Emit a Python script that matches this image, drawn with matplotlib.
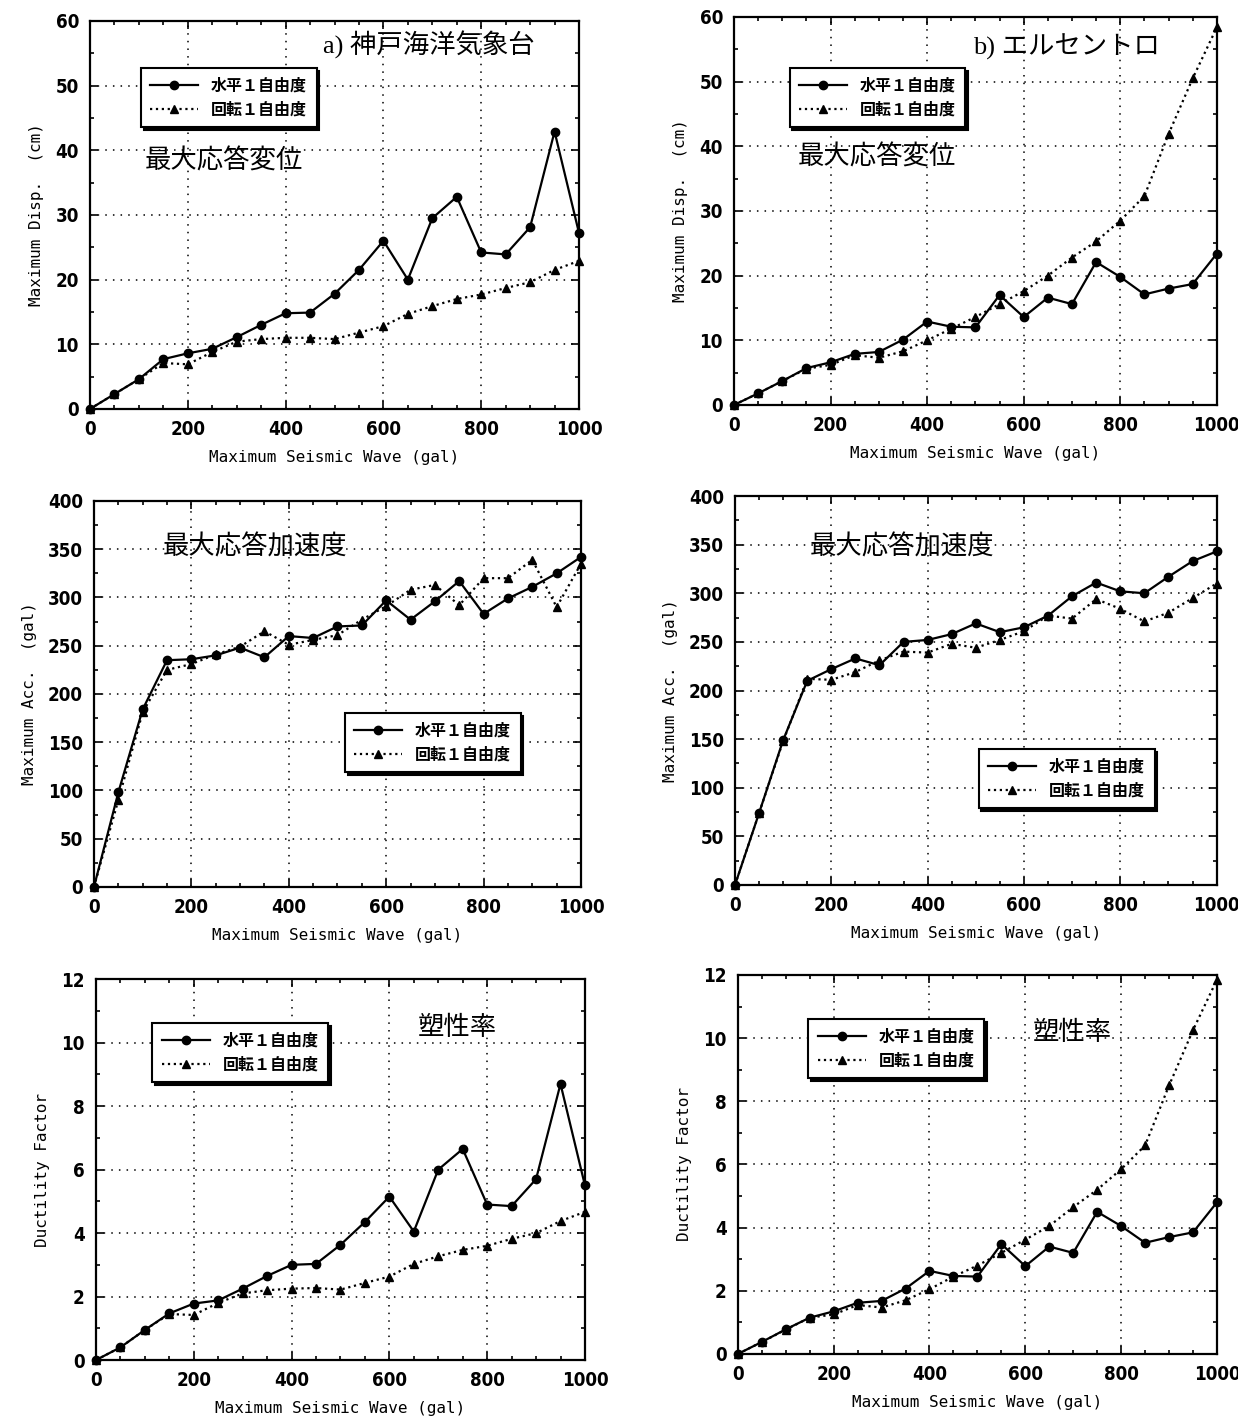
import matplotlib
matplotlib.use('Agg')
import matplotlib.pyplot as plt
from matplotlib import font_manager
from matplotlib.ticker import MultipleLocator

# input seismic wave amplitude (gal)
wave = [0, 50, 100, 150, 200, 250, 300, 350, 400, 450, 500,
        550, 600, 650, 700, 750, 800, 850, 900, 950, 1000]

# a) Kobe, max displacement (cm)
kobe_disp_h = [0, 2.3, 4.6, 7.7, 8.6, 9.3, 11.1, 13.0, 14.8, 14.9, 17.8,
               21.5, 26.0, 20.0, 29.5, 32.8, 24.2, 23.9, 28.1, 42.9, 27.2]
kobe_disp_r = [0, 2.3, 4.6, 7.1, 6.9, 8.8, 10.4, 10.8, 11.0, 11.0, 10.8,
               11.8, 12.8, 14.7, 15.9, 17.0, 17.7, 18.7, 19.6, 21.5, 22.9]
# b) El Centro, max displacement (cm)
elc_disp_h = [0, 1.8, 3.7, 5.7, 6.6, 7.9, 8.2, 10.1, 12.9, 12.1, 12.0,
              17.0, 13.6, 16.6, 15.6, 22.1, 19.8, 17.1, 18.0, 18.7, 23.4]
elc_disp_r = [0, 1.8, 3.7, 5.6, 6.2, 7.7, 7.3, 8.3, 10.0, 11.8, 13.6,
              15.6, 17.6, 20.0, 22.8, 25.3, 28.5, 32.3, 41.9, 50.5, 58.4]
# c) Kobe, max acceleration (gal)
kobe_acc_h = [0, 98, 184, 235, 236, 240, 248, 238, 260, 258, 270,
              271, 297, 277, 296, 317, 283, 299, 311, 325, 342]
kobe_acc_r = [0, 90, 181, 225, 231, 241, 249, 265, 251, 256, 261,
              277, 291, 308, 313, 292, 320, 320, 339, 290, 335]
# d) El Centro, max acceleration (gal)
elc_acc_h = [0, 74, 149, 210, 222, 233, 226, 250, 252, 258, 269,
             260, 265, 277, 297, 311, 302, 300, 317, 333, 343]
elc_acc_r = [0, 74, 148, 212, 211, 219, 231, 240, 239, 248, 244,
             252, 261, 277, 274, 294, 284, 271, 280, 295, 310]
# e) Kobe, ductility factor
kobe_duc_h = [0, 0.4, 0.95, 1.47, 1.78, 1.88, 2.25, 2.65, 3.0, 3.03, 3.63,
              4.35, 5.15, 4.05, 6.0, 6.65, 4.9, 4.85, 5.7, 8.7, 5.5]
kobe_duc_r = [0, 0.4, 0.95, 1.45, 1.42, 1.8, 2.1, 2.2, 2.25, 2.27, 2.22,
              2.43, 2.63, 3.03, 3.27, 3.47, 3.6, 3.82, 4.0, 4.38, 4.67]
# f) El Centro, ductility factor
elc_duc_h = [0, 0.38, 0.78, 1.15, 1.35, 1.62, 1.68, 2.07, 2.63, 2.47, 2.45,
             3.48, 2.78, 3.4, 3.2, 4.5, 4.05, 3.52, 3.7, 3.85, 4.8]
elc_duc_r = [0, 0.38, 0.77, 1.15, 1.25, 1.55, 1.47, 1.7, 2.05, 2.45, 2.8,
             3.2, 3.62, 4.05, 4.65, 5.2, 5.85, 6.6, 8.5, 10.25, 11.85]

label_h = '水平１自由度'
label_r = '回転１自由度'
xlabel = 'Maximum Seismic Wave (gal)'

# look for a narrow/condensed face for the tick numbers
num_prop = None
for f in font_manager.fontManager.ttflist:
    nm = f.name.lower()
    if ('narrow' in nm or 'condensed' in nm or 'condensed' in str(f.stretch)) \
            and f.weight in ('bold', 700) and 'mono' not in nm:
        num_prop = font_manager.FontProperties(fname=f.fname, size=13.5)
        break
if num_prop is None:
    for f in font_manager.fontManager.ttflist:
        nm = f.name.lower()
        if 'narrow' in nm or 'condensed' in nm or 'condensed' in str(f.stretch):
            num_prop = font_manager.FontProperties(fname=f.fname, size=13.5, weight='bold')
            break
if num_prop is None:
    num_prop = font_manager.FontProperties(family='Liberation Sans', weight='bold', size=12)

jp = ['Liberation Serif', 'Noto Sans CJK JP', 'DejaVu Sans']

panels = [
    # rect, h, r, ymax, ystep, yminor, ylabel, notes, legend (x, ytop)
    ([0.0727, 0.7112, 0.395, 0.274], kobe_disp_h, kobe_disp_r, 60, 10, 5,
     'Maximum Disp.  (cm)',
     [('a) 神戸海洋気象台', 0.476, 0.938), ('最大応答変位', 0.111, 0.64)], (0.104, 0.879)),
    ([0.5929, 0.714, 0.390, 0.274], elc_disp_h, elc_disp_r, 60, 10, 5,
     'Maximum Disp.  (cm)',
     [('b) エルセントロ', 0.495, 0.923), ('最大応答変位', 0.133, 0.64)], (0.115, 0.869)),
    ([0.0759, 0.3736, 0.3934, 0.2726], kobe_acc_h, kobe_acc_r, 400, 50, 25,
     'Maximum Acc.  (gal)',
     [('最大応答加速度', 0.142, 0.88)], (0.515, 0.451)),
    ([0.5937, 0.375, 0.389, 0.2747], elc_acc_h, elc_acc_r, 400, 50, 25,
     'Maximum Acc.  (gal)',
     [('最大応答加速度', 0.156, 0.869)], (0.506, 0.35)),
    ([0.0775, 0.0395, 0.395, 0.269], kobe_duc_h, kobe_duc_r, 12, 2, 1,
     'Ductility Factor',
     [('塑性率', 0.658, 0.871)], (0.115, 0.885)),
    ([0.596, 0.0438, 0.387, 0.2677], elc_duc_h, elc_duc_r, 12, 2, 1,
     'Ductility Factor',
     [('塑性率', 0.616, 0.847)], (0.147, 0.884)),
]

fig = plt.figure(figsize=(12.38, 14.16), dpi=100)

for rect, h, r, ymax, ystep, yminor, ylabel, notes, leg_pos in panels:
    ax = fig.add_axes(rect)
    ax.plot(wave, h, '-', color='black', lw=1.6, marker='o', ms=6,
            label=label_h, clip_on=False, zorder=4)
    ax.plot(wave, r, ':', color='black', lw=1.6, marker='^', ms=5.5,
            label=label_r, clip_on=False, zorder=4)
    ax.set_xlim(0, 1000)
    ax.set_ylim(0, ymax)
    ax.xaxis.set_major_locator(MultipleLocator(200))
    ax.xaxis.set_minor_locator(MultipleLocator(50))
    ax.yaxis.set_major_locator(MultipleLocator(ystep))
    ax.yaxis.set_minor_locator(MultipleLocator(yminor))
    ax.tick_params(which='both', direction='in', top=True, right=True, width=1.2)
    ax.tick_params(which='major', length=6, pad=8)
    ax.tick_params(which='minor', length=3)
    for lab in ax.get_xticklabels() + ax.get_yticklabels():
        lab.set_fontproperties(num_prop)
    ax.grid(True, which='major', color='black', linestyle=(0, (1, 4)), lw=1.1)
    for s in ax.spines.values():
        s.set_linewidth(1.6)
    ax.set_xlabel(xlabel, family='DejaVu Sans Mono', fontsize=11.5, labelpad=8)
    ax.set_ylabel(ylabel, family='DejaVu Sans Mono', fontsize=11.5, labelpad=8)
    for txt, tx, ty in notes:
        ax.text(tx, ty, txt, transform=ax.transAxes, family=jp, fontsize=19,
                va='center', ha='left')
    leg = ax.legend(loc='upper left', bbox_to_anchor=leg_pos, borderaxespad=0,
                    prop={'family': ['Noto Sans CJK JP', 'DejaVu Sans'], 'size': 11.5,
                          'weight': 'bold'},
                    handlelength=3.0, fancybox=False, framealpha=1,
                    edgecolor='black', shadow={'color': 'black', 'alpha': 1},
                    borderpad=0.6, labelspacing=0.5)
    leg.get_frame().set_linewidth(1.5)
    leg.set_zorder(5)

fig.savefig('out.png', dpi=100)
